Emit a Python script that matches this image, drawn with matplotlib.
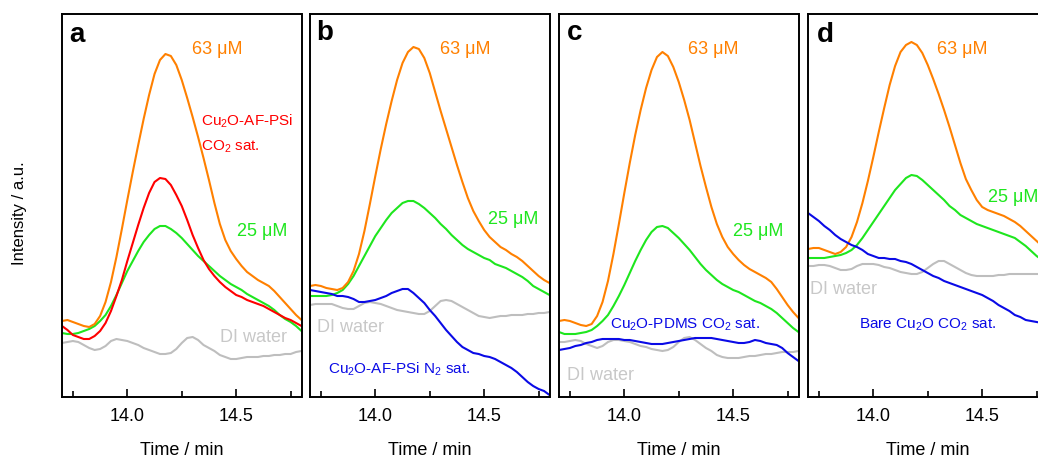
import numpy as np
import matplotlib
matplotlib.use("Agg")
import matplotlib.pyplot as plt

plt.rcParams['font.family'] = ['Liberation Sans', 'DejaVu Sans']
plt.rcParams['mathtext.fontset'] = 'custom'
plt.rcParams['mathtext.rm'] = 'Liberation Sans'
plt.rcParams['mathtext.it'] = 'Liberation Sans:italic'
plt.rcParams['mathtext.bf'] = 'Liberation Sans:bold'

# retention time grid (min), shared by every trace
time_min = np.linspace(13.7, 14.8, 45)

# intensities in a.u.
a_63uM = [76, 77, 75, 73, 71, 70, 73, 81, 95, 115, 140, 168, 197, 225, 252, 278, 302, 323, 337, 343, 341,
          332, 317, 299, 280, 260, 239, 217, 194, 173, 157, 146, 138, 131, 125, 121, 117, 114, 111, 106, 100,
          94, 88, 82, 77]
a_25uM = [64, 63, 63, 64, 66, 68, 71, 76, 82, 91, 102, 114, 126, 136, 146, 155, 162, 168, 171, 171, 168,
          164, 159, 153, 147, 141, 136, 131, 126, 121, 117, 113, 110, 107, 103, 100, 97, 94, 91, 87, 82,
          78, 75, 71, 66]
a_sample = [71, 67, 62, 60, 58, 58, 61, 66, 74, 86, 101, 117, 136, 154, 172, 189, 204, 215, 219, 218, 212,
            202, 191, 177, 162, 149, 137, 128, 121, 115, 110, 106, 102, 100, 97, 95, 93, 91, 88, 85, 82,
            79, 77, 74, 71]
a_water = [54, 55, 56, 55, 52, 49, 47, 48, 51, 56, 58, 57, 56, 54, 52, 49, 47, 45, 43, 43, 44,
           48, 54, 59, 60, 57, 52, 49, 46, 42, 40, 38, 38, 39, 40, 40, 40, 41, 41, 42, 42,
           43, 43, 45, 46]

b_63uM = [111, 112, 111, 109, 108, 107, 109, 115, 126, 143, 166, 193, 221, 248, 273, 296, 317, 334, 345, 350, 348,
          339, 324, 305, 286, 268, 250, 232, 215, 199, 186, 176, 167, 160, 155, 150, 147, 143, 140, 136, 131,
          126, 121, 117, 114]
b_25uM = [101, 101, 101, 101, 102, 104, 107, 113, 121, 131, 141, 151, 161, 169, 177, 184, 189, 194, 196, 196, 193,
          189, 184, 179, 173, 168, 162, 157, 152, 148, 145, 142, 139, 137, 133, 131, 129, 126, 123, 120, 116,
          111, 108, 105, 102]
b_sample = [107, 106, 105, 104, 103, 101, 101, 100, 98, 95, 95, 96, 97, 99, 101, 104, 106, 108, 108, 104, 99,
            94, 87, 81, 74, 67, 61, 55, 50, 47, 44, 43, 41, 40, 38, 35, 32, 29, 25, 20, 15,
            11, 8, 6, 2]
b_water = [92, 93, 93, 93, 93, 91, 89, 88, 88, 91, 94, 95, 94, 93, 91, 89, 87, 86, 85, 84, 83,
           83, 86, 91, 96, 97, 96, 93, 90, 87, 84, 81, 80, 79, 80, 81, 81, 82, 82, 82, 83,
           83, 84, 84, 85]

c_63uM = [76, 77, 76, 74, 72, 71, 73, 81, 95, 116, 143, 173, 204, 234, 262, 287, 309, 327, 340, 345, 341,
          330, 315, 297, 277, 254, 231, 210, 190, 173, 160, 150, 143, 137, 132, 128, 125, 122, 119, 115, 108,
          100, 92, 85, 79]
c_25uM = [65, 63, 63, 63, 64, 65, 67, 71, 76, 82, 91, 101, 112, 124, 136, 147, 157, 165, 170, 171, 169,
          164, 159, 153, 147, 140, 133, 127, 122, 117, 113, 110, 107, 105, 102, 99, 96, 94, 91, 88, 84,
          79, 74, 69, 65]
c_sample = [47, 48, 49, 51, 52, 54, 55, 57, 58, 58, 58, 58, 57, 57, 56, 55, 54, 53, 53, 53, 54,
            55, 56, 57, 58, 59, 59, 59, 59, 58, 57, 56, 55, 54, 54, 55, 57, 56, 54, 53, 52,
            49, 44, 40, 36]
c_water = [55, 55, 56, 57, 56, 53, 51, 49, 51, 55, 57, 57, 56, 55, 53, 51, 50, 48, 47, 46, 47,
           50, 55, 59, 60, 57, 53, 49, 46, 42, 40, 39, 39, 39, 40, 41, 41, 42, 43, 43, 44,
           45, 45, 45, 46]

d_63uM = [148, 149, 149, 147, 145, 143, 145, 150, 160, 175, 194, 216, 240, 265, 289, 312, 331, 345, 352, 355, 352,
          344, 332, 318, 303, 287, 270, 252, 234, 218, 207, 197, 190, 187, 185, 183, 181, 178, 175, 171, 166,
          161, 156, 151, 146]
d_25uM = [139, 139, 139, 139, 140, 141, 142, 144, 147, 152, 159, 167, 175, 183, 191, 199, 207, 213, 219, 222, 221,
          217, 212, 207, 202, 197, 191, 187, 182, 179, 176, 173, 171, 169, 167, 165, 163, 161, 159, 155, 151,
          146, 141, 137, 133]
d_sample = [184, 180, 176, 171, 167, 162, 158, 155, 152, 150, 147, 143, 141, 139, 139, 138, 138, 136, 135, 133, 130,
            127, 124, 121, 119, 116, 114, 112, 110, 108, 106, 104, 102, 99, 96, 92, 89, 86, 82, 80, 77,
            76, 75, 74, 73]
d_water = [131, 131, 132, 132, 131, 129, 127, 127, 128, 131, 133, 133, 133, 132, 130, 129, 127, 125, 124, 123, 123,
           125, 129, 133, 136, 136, 133, 130, 127, 124, 122, 121, 121, 121, 121, 122, 122, 123, 123, 123, 123,
           123, 123, 123, 123]

orange = '#FF8000'
green = '#1EE61E'
red = '#FF0000'
blue = '#0A0AE6'
grey = '#BEBEBE'

fig = plt.figure(figsize=(10.38, 4.57), dpi=100)
lefts = [62, 310, 559, 808]
axes = [fig.add_axes([l / 1038, 1 - 397 / 457, 239.5 / 1038, 383 / 457]) for l in lefts]

panels = [
    (a_63uM, a_25uM, a_sample, a_water, red),
    (b_63uM, b_25uM, b_sample, b_water, blue),
    (c_63uM, c_25uM, c_sample, c_water, blue),
    (d_63uM, d_25uM, d_sample, d_water, blue),
]

for ax, (hi, lo, sample, water, scol) in zip(axes, panels):
    ax.plot(time_min, water, color=grey, lw=1.5)
    ax.plot(time_min, lo, color=green, lw=1.5)
    ax.plot(time_min, hi, color=orange, lw=1.5)
    ax.plot(time_min, sample, color=scol, lw=1.5)
    ax.set_xlim(13.7, 14.8)
    ax.set_ylim(0, 383)
    ax.set_yticks([])
    ax.set_xticks([14.0, 14.5])
    ax.set_xticks([13.75, 14.25, 14.75], minor=True)
    ax.set_xticklabels(['14.0', '14.5'])
    ax.tick_params(axis='x', which='major', direction='in', length=6, width=1.2, labelsize=13, pad=8)
    ax.tick_params(axis='x', which='minor', direction='in', length=4, width=1.2)
    for s in ax.spines.values():
        s.set_linewidth(1.4)
    ax.set_xlabel('Time / min', fontsize=13, labelpad=12)

sub_fs = 11
mu_fs = 13

# panel a
ax = axes[0]
ax.text(13.769, 362, 'a', fontsize=20, fontweight='bold', ha='center', va='center')
ax.text(14.297, 347, '63 μM', color=orange, fontsize=mu_fs, va='center')
ax.text(14.338, 271, 'Cu$_\\mathregular{2}$O-AF-PSi', color=red, fontsize=sub_fs, va='baseline')
ax.text(14.338, 246, 'CO$_\\mathregular{2}$ sat.', color=red, fontsize=sub_fs, va='baseline')
ax.text(14.504, 165, '25 μM', color=green, fontsize=mu_fs, va='center')
ax.text(14.426, 60, 'DI water', color='#C8C8C8', fontsize=mu_fs, va='center')

# panel b
ax = axes[1]
ax.text(13.769, 364, 'b', fontsize=20, fontweight='bold', ha='center', va='center')
ax.text(14.297, 347, '63 μM', color=orange, fontsize=mu_fs, va='center')
ax.text(14.518, 177, '25 μM', color=green, fontsize=mu_fs, va='center')
ax.text(13.732, 70, 'DI water', color='#C8C8C8', fontsize=mu_fs, va='center')
ax.text(13.783, 23, 'Cu$_\\mathregular{2}$O-AF-PSi N$_\\mathregular{2}$ sat.', color=blue,
        fontsize=sub_fs, va='baseline')

# panel c
ax = axes[2]
ax.text(13.773, 364, 'c', fontsize=20, fontweight='bold', ha='center', va='center')
ax.text(14.292, 347, '63 μM', color=orange, fontsize=mu_fs, va='center')
ax.text(14.499, 165, '25 μM', color=green, fontsize=mu_fs, va='center')
ax.text(13.934, 68, 'Cu$_\\mathregular{2}$O-PDMS CO$_\\mathregular{2}$ sat.', color=blue,
        fontsize=sub_fs, va='baseline')
ax.text(13.737, 21, 'DI water', color='#C8C8C8', fontsize=mu_fs, va='center')

# panel d
ax = axes[3]
ax.text(13.778, 362, 'd', fontsize=20, fontweight='bold', ha='center', va='center')
ax.text(14.292, 347, '63 μM', color=orange, fontsize=mu_fs, va='center')
ax.text(14.527, 200, '25 μM', color=green, fontsize=mu_fs, va='center', clip_on=False)
ax.text(13.709, 108, 'DI water', color='#C8C8C8', fontsize=mu_fs, va='center')
ax.text(13.934, 68, 'Bare Cu$_\\mathregular{2}$O CO$_\\mathregular{2}$ sat.', color=blue,
        fontsize=sub_fs, va='baseline')

fig.text(20 / 1038, 1 - 213 / 457, 'Intensity / a.u.', rotation=90, fontsize=12,
         ha='center', va='center')

fig.savefig('out.png', dpi=100)
plt.close(fig)
